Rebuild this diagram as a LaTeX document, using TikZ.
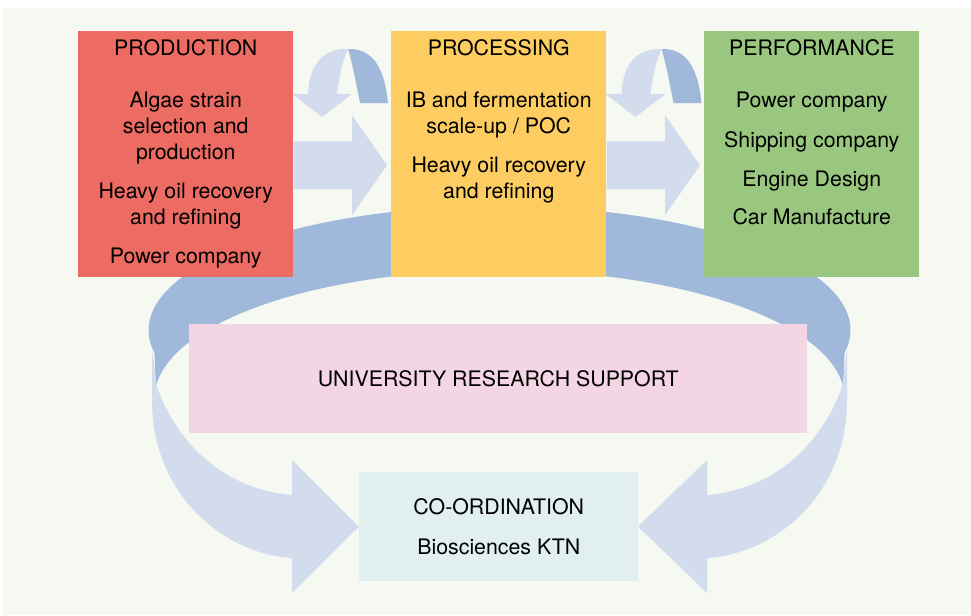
\documentclass[tikz,border=0pt]{standalone}
\usepackage{fontspec}
\setmainfont{TeX Gyre Heros}
\usetikzlibrary{positioning,calc}

\definecolor{prodred}{HTML}{EC6B62}
\definecolor{procyellow}{HTML}{FDCD62}
\definecolor{perfgreen}{HTML}{9AC77F}
\definecolor{unipink}{HTML}{F3D5E4}
\definecolor{coordcyan}{HTML}{E1EFF0}
\definecolor{arrowlight}{HTML}{D2DCEC}
\definecolor{arrowdark}{HTML}{A0B8D9}
\definecolor{paper}{HTML}{F6F8F2}

\begin{document}
\begin{tikzpicture}[x=0.75pt, y=-0.75pt,
    block/.style={inner sep=0pt, anchor=north west, minimum width=161.25pt, minimum height=184.5pt},
    wideblock/.style={inner sep=0pt, anchor=north west, minimum height=81.75pt, align=center,
        font=\fontsize{16}{19.5}\selectfont},
    headtext/.style={inner sep=0pt, font=\fontsize{16}{19.5}\selectfont},
    items/.style={inner sep=0pt, align=center, font=\fontsize{16}{19.5}\selectfont},
    flowlight/.style={fill=arrowlight},
    flowdark/.style={fill=arrowdark}]
        \useasboundingbox (0,0) rectangle (971,615);
        \fill[white] (0,0) rectangle (971,615);
        \fill[paper] (3,8) rectangle (971,615);

        % ring behind the boxes
        \fill[flowdark] plot[domain=-10.5:190.5, samples=90] ({499.5+351*cos(\x)},{330-124*sin(\x)})
            -- plot[domain=5:175, samples=90] ({499.5-345*cos(\x)},{398-128*sin(\x)}) -- cycle;

        % turning arrows between the top boxes
        \foreach \dx in {0,313.5}{
            \begin{scope}[shift={(\dx,0)}]
                \fill[flowdark] (348,49) .. controls (375,48) and (385,72) .. (388,103)
                    -- (360,103) .. controls (356,82) and (352,62) .. cycle;
                \fill[flowlight] (348,49) .. controls (322,48) and (309,66) .. (308,94)
                    -- (292,94) -- (322,117) -- (352,94) -- (337,94)
                    .. controls (339,76) and (343,60) .. cycle;
            \end{scope}
        }

        % top boxes
        \node[block, fill=prodred] (prod) at (78,31) {};
        \node[block, fill=procyellow] (proc) at (391,31) {};
        \node[block, fill=perfgreen] (perf) at (704,31) {};

        \node[headtext, below=6pt of prod.north] (prodT) {PRODUCTION};
        \node[headtext, below=6pt of proc.north] (procT) {PROCESSING};
        \node[headtext, below=6pt of perf.north] (perfT) {PERFORMANCE};

        \node[items, below=26.5pt of prodT] (prodB) {Algae strain\\selection and\\production\\[9.75pt]Heavy oil recovery\\and refining\\[9.75pt]Power company};
        \node[items, below=26.5pt of procT] (procB) {IB and fermentation\\scale-up / POC\\[9.75pt]Heavy oil recovery\\and refining};
        \node[items, below=26.5pt of perfT] (perfB) {Power company\\[10.5pt]Shipping company\\[10pt]Engine Design\\[9pt]Car Manufacture};

        % middle and bottom boxes
        \node[wideblock, fill=unipink, minimum width=463.5pt] (uni) at (189,324) {UNIVERSITY RESEARCH SUPPORT};
        \node[wideblock, fill=coordcyan, minimum width=209.25pt] (coord) at (359,472) {CO-ORDINATION\\[10.5pt]Biosciences KTN};

        % straight arrows
        \foreach \a/\b in {prod/proc,proc/perf}
            \fill[flowlight] ($(\a.east)+(0,-13)$) -- ($(\b.west)+(-39,-13)$) -- ($(\b.west)+(-39,-39)$)
                -- ($(\b.west)+(-4,11)$) -- ($(\b.west)+(-39,61)$) -- ($(\b.west)+(-39,35)$)
                -- ($(\a.east)+(0,35)$) -- cycle;

        % ring front ends into co-ordination
        \fill[flowlight] (152,350) -- (152,400) .. controls (152,500) and (230,555) .. (292,558)
            -- (292,593) -- (coord.west) -- (292,460) -- (292,495)
            .. controls (230,490) and (180,450) .. (157,387) -- cycle;
        \begin{scope}[shift={(999,0)}, xscale=-1]
            \fill[flowlight] (152,350) -- (152,400) .. controls (152,500) and (230,555) .. (292,558)
                -- (292,593) -- (361,526.5) -- (292,460) -- (292,495)
                .. controls (230,490) and (180,450) .. (157,387) -- cycle;
        \end{scope}
    \end{tikzpicture}
\end{document}
